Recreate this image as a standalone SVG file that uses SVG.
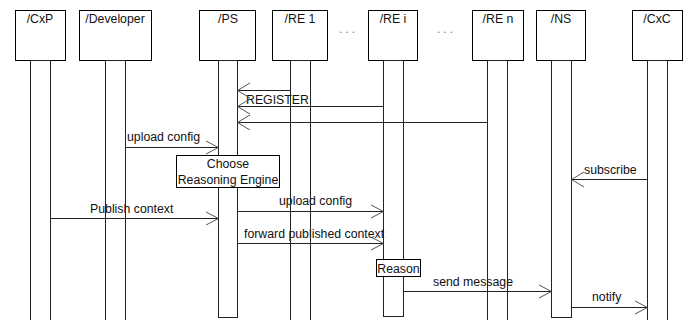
<svg xmlns="http://www.w3.org/2000/svg" width="690" height="320" viewBox="0 0 690 320">
<style>
.box{fill:#fff;stroke:#000;stroke-width:1}
.bar{fill:none;stroke:#222;stroke-width:1}
.t{font-family:"Liberation Sans",Arial,sans-serif;font-size:12.3px;fill:#111}
.c{text-anchor:middle}
.msg{stroke:#222;stroke-width:1;fill:none}
.hd{stroke:#555;stroke-width:1;fill:none}
.dots{font-family:"Liberation Sans",Arial,sans-serif;font-size:12px;fill:#777;letter-spacing:3px}
</style>
<rect width="690" height="320" fill="#fff"/>
<g id="labels">
<text class="t" x="127" y="141">upload config</text>
<text class="t" x="90" y="213">Publish context</text>
<text class="t" x="246" y="104">REGISTER</text>
<text class="t" x="279" y="205">upload config</text>
<text class="t" x="244" y="238">forward published context</text>
<text class="t" x="584" y="174">subscribe</text>
<text class="t" x="433" y="286">send message</text>
<text class="t" x="592" y="301">notify</text>
</g>
<g id="CxP"><rect class="box" x="15.5" y="10.5" width="50" height="50"/><text class="t c" x="40" y="23">/CxP</text><rect class="bar" x="30.5" y="60.5" width="20" height="262"/></g>
<g id="Developer"><rect class="box" x="79.5" y="10.5" width="72" height="50"/><text class="t c" x="115" y="23">/Developer</text><rect class="bar" x="105.5" y="60.5" width="20" height="262"/></g>
<g id="PS"><rect class="box" x="199.5" y="10.5" width="56" height="50"/><text class="t c" x="228" y="23">/PS</text><rect class="bar" x="218.5" y="60.5" width="19" height="257"/></g>
<g id="RE1"><rect class="box" x="272.5" y="10.5" width="55" height="50"/><text class="t c" x="300" y="23">/RE 1</text><rect class="bar" x="290.5" y="60.5" width="20" height="262"/></g>
<g id="REi"><rect class="box" x="368.5" y="10.5" width="49" height="50"/><text class="t c" x="393" y="23">/RE i</text><rect class="bar" x="383.5" y="60.5" width="20" height="256"/></g>
<g id="REn"><rect class="box" x="472.5" y="10.5" width="51" height="50"/><text class="t c" x="498" y="23">/RE n</text><rect class="bar" x="487.5" y="60.5" width="20" height="262"/></g>
<g id="NS"><rect class="box" x="536.5" y="10.5" width="49" height="50"/><text class="t c" x="561" y="23">/NS</text><rect class="bar" x="551.5" y="60.5" width="20" height="257"/></g>
<g id="CxC"><rect class="box" x="632.5" y="10.5" width="50" height="50"/><text class="t c" x="657" y="23">/CxC</text><rect class="bar" x="647.5" y="60.5" width="20" height="262"/></g>
<text class="dots" x="339" y="33">...</text>
<text class="dots" x="437" y="33">...</text>
<g id="connectors">
<path class="msg" d="M290 90.5H237.5"/><path class="hd" d="M250 83L237.5 90.5L250 98"/>
<path class="msg" d="M383 106.5H237.5"/><path class="hd" d="M250 99L237.5 106.5L250 114"/>
<path class="msg" d="M487 122.5H237.5"/><path class="hd" d="M250 115L237.5 122.5L250 130"/>
<path class="msg" d="M126 147.5H218.5"/><path class="hd" d="M206 141L218.5 147.5L206 154"/>
<path class="msg" d="M647 179.5H571.5"/><path class="hd" d="M584 172L571.5 179.5L584 187"/>
<path class="msg" d="M51 218.5H218.5"/><path class="hd" d="M206 212L218.5 218.5L206 225"/>
<path class="msg" d="M238 211.5H383.5"/><path class="hd" d="M371 205L383.5 211.5L371 218"/>
<path class="msg" d="M238 243.5H383.5"/><path class="hd" d="M371 237L383.5 243.5L371 250"/>
<path class="msg" d="M404 291.5H551.5"/><path class="hd" d="M539 285L551.5 291.5L539 298"/>
<path class="msg" d="M572 307.5H647.5"/><path class="hd" d="M635 301L647.5 307.5L635 314"/>
</g>
<g id="ChooseEngine"><rect class="box" x="176.5" y="155.5" width="103" height="32"/><text class="t c" x="228" y="168">Choose</text><text class="t c" x="228" y="184">Reasoning Engine</text></g>
<g id="Reason"><rect class="box" x="376.5" y="259.5" width="44" height="17"/><text class="t c" x="398.5" y="273">Reason</text></g>
</svg>
